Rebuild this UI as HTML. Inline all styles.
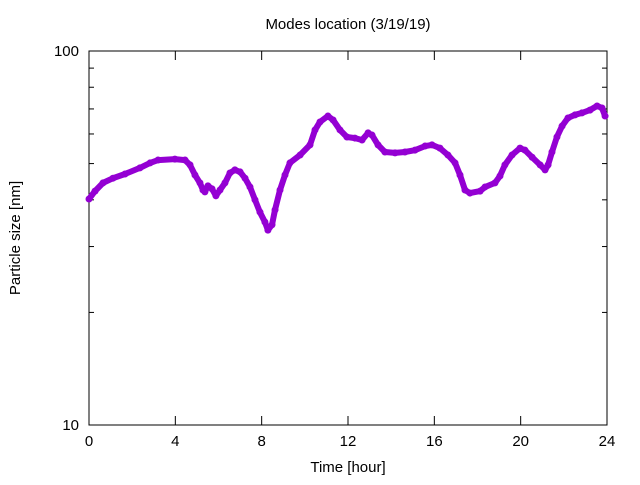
<!DOCTYPE html>
<html><head><meta charset="utf-8"><style>
body{margin:0;background:#fff}
svg text{font-family:"Liberation Sans",sans-serif;fill:#000}
</style></head><body>
<svg width="640" height="480" viewBox="0 0 640 480" xmlns="http://www.w3.org/2000/svg" id="c">
<rect width="640" height="480" fill="#fff"/>
<text x="348" y="29" font-size="15" text-anchor="middle">Modes location (3/19/19)</text>
<text x="348" y="472" font-size="15" text-anchor="middle">Time [hour]</text>
<text transform="translate(20,238) rotate(-90)" font-size="15" text-anchor="middle">Particle size [nm]</text>
<g id="ax"></g>
<g id="series"></g>
</svg>
<script>
const times=[0,.28,.65,1.11,1.67,2.36,2.83,3.2,3.98,4.45,4.68,4.91,5.14,5.28,5.37,5.51,5.70,5.88,6.07,6.30,6.53,6.76,7.0,7.23,7.46,7.69,7.92,8.15,8.29,8.48,8.62,8.85,9.08,9.31,9.78,10.24,10.47,10.7,11.07,11.31,11.63,11.95,12.32,12.65,12.93,13.11,13.39,13.71,14.18,14.64,15.1,15.57,15.89,16.26,16.63,16.96,17.19,17.42,17.65,18.12,18.35,18.81,19.04,19.27,19.6,19.97,20.2,20.53,20.9,21.13,21.27,21.45,21.68,21.92,22.19,22.52,22.84,23.21,23.54,23.77,23.91];
const sizes=[40.2,42.2,44.4,45.7,46.9,48.7,50.2,51.1,51.4,51.1,49.6,46.6,44.4,42.5,42.0,43.6,42.8,41.0,42.5,44.4,47.2,48.1,47.5,45.7,43.3,40.0,37.1,34.9,33.2,34.3,37.6,42.5,46.6,50.2,52.7,56.1,61.5,64.6,67.0,65.4,61.5,58.9,58.5,57.8,60.4,59.6,56.1,53.7,53.4,53.7,54.3,55.7,56.1,55.0,52.7,50.2,46.6,42.5,41.7,42.2,43.3,44.4,46.3,49.6,52.7,55.0,54.3,52.0,49.6,48.1,49.6,53.7,58.9,63.0,66.2,67.5,68.3,69.5,71.3,70.4,67.0];
const xTicks=[0,4,8,12,16,20,24];
const yMajor=[10,100];
const yMinor=[20,30,40,50,60,70,80,90];
const L=89,R=607,T=51,B=425;
const X=t=>L+(t-0)/24*(R-L);
const Y=v=>B-(Math.log10(v)-1)*(B-T);
const NS="http://www.w3.org/2000/svg";
const ax=document.getElementById('ax');
function el(tag,attrs,parent){const e=document.createElementNS(NS,tag);for(const k in attrs)e.setAttribute(k,attrs[k]);parent.appendChild(e);return e;}
const frame=el('rect',{x:L,y:T,width:R-L,height:B-T,fill:'none',stroke:'#000','stroke-width':1},ax);


xTicks.forEach(t=>{
  const x=X(t);
  el('line',{x1:x,y1:B,x2:x,y2:B-9,stroke:'#000'},ax);
  el('line',{x1:x,y1:T,x2:x,y2:T+9,stroke:'#000'},ax);
  const tx=el('text',{x:x,y:B+21,'font-size':15,'text-anchor':'middle'},ax);
  tx.textContent=t;
  
  
});
yMajor.forEach(v=>{
  const y=Y(v);
  el('line',{x1:L,y1:y,x2:L+9,y2:y,stroke:'#000'},ax);
  el('line',{x1:R,y1:y,x2:R-9,y2:y,stroke:'#000'},ax);
  const tx=el('text',{x:L-10,y:y+5,'font-size':15,'text-anchor':'end'},ax);
  tx.textContent=v;
  
  
});
yMinor.forEach(v=>{
  const y=Y(v);
  el('line',{x1:L,y1:y,x2:L+5,y2:y,stroke:'#000'},ax);
  el('line',{x1:R,y1:y,x2:R-5,y2:y,stroke:'#000'},ax);
});
const s=document.getElementById('series');
const pts=times.map((t,i)=>X(t).toFixed(1)+','+Y(sizes[i]).toFixed(1)).join(' ');
const pl=el('polyline',{points:pts,fill:'none',stroke:'#9400d3','stroke-width':6,'stroke-linejoin':'round','stroke-linecap':'round'},s);


times.forEach((t,i)=>{
  const c=el('circle',{cx:X(t),cy:Y(sizes[i]),r:3.5,fill:'#9400d3'},s);
  
  
});
</script>
</body></html>
